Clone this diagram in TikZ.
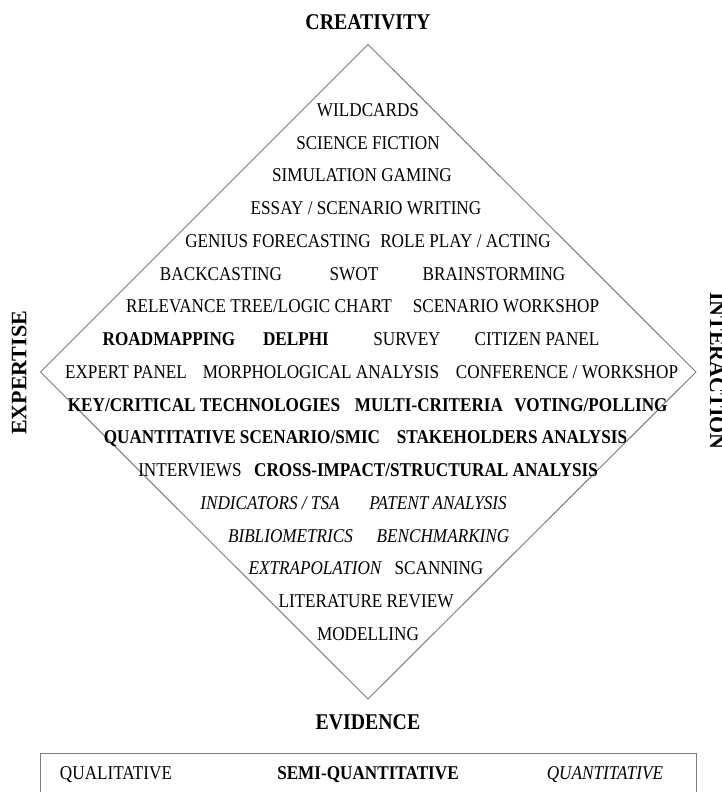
\documentclass[tikz,border=0pt]{standalone}
\usepackage{fontspec}
\setmainfont{Liberation Serif}[FakeStretch=0.88]
\newfontfamily\sidefont{Liberation Serif}

\definecolor{rim}{RGB}{125,125,125}

\tikzset{
  meth/.style={font=\fontsize{19.5}{22}\selectfont, text height=12.9pt, text depth=0pt, inner sep=0pt},
  methb/.style={meth, font=\fontsize{19.5}{22}\selectfont\bfseries},
  methi/.style={meth, font=\fontsize{19.5}{22}\selectfont\itshape},
  corner/.style={font=\fontsize{22.5}{26}\selectfont\bfseries, text height=14.9pt, text depth=0pt, inner sep=0pt},
  sidecorner/.style={corner, font=\fontsize{22}{26}\selectfont\sidefont\bfseries},
}

\begin{document}
\begin{tikzpicture}[x=1pt,y=1pt]
  \useasboundingbox (-368,-420) rectangle (353,372);

  % diamond
  \coordinate (top) at (0,327.5);
  \coordinate (rgt) at (328,0);
  \coordinate (bot) at (0,-327);
  \coordinate (lft) at (-327.5,0);
  \draw[rim,line width=1pt] (top) -- (rgt) -- (bot) -- (lft) -- cycle;

  % corners
  \node[corner] (creativity) at (0,349.5) {CREATIVITY};
  \node[corner] (evidence) at (0,-350) {EVIDENCE};
  \node[sidecorner,rotate=90] (expertise) at (-349,-1) {EXPERTISE};
  \node[sidecorner,rotate=-90] (interaction) at (349.5,1) {INTERACTION};

  % methods, top to bottom
  \node[meth] (wild) at (0,262) {WILDCARDS};
  \node[meth] (scifi) at (0,229.25) {SCIENCE FICTION};
  \node[meth] (simgame) at (-6,196.5) {SIMULATION GAMING};
  \node[meth] (essay) at (-2,163.75) {ESSAY / SCENARIO WRITING};
  \node[meth] (genius) at (-90,131) {GENIUS FORECASTING};
  \node[meth] (roleplay) at (97.5,131) {ROLE PLAY / ACTING};
  \node[meth] (backcast) at (-147,98.25) {BACKCASTING};
  \node[meth] (swot) at (-14,98.25) {SWOT};
  \node[meth] (brainstorm) at (126,98.25) {BRAINSTORMING};
  \node[meth] (reltree) at (-109,65.5) {RELEVANCE TREE/LOGIC CHART};
  \node[meth] (scenws) at (138,65.5) {SCENARIO WORKSHOP};
  \node[methb] (roadmap) at (-199,32.75) {ROADMAPPING};
  \node[methb] (delphi) at (-72,32.75) {DELPHI};
  \node[meth] (survey) at (39,32.75) {SURVEY};
  \node[meth] (citizen) at (169,32.75) {CITIZEN PANEL};
  \node[meth] (exppanel) at (-242,0) {EXPERT PANEL};
  \node[meth] (morph) at (-47,0) {MORPHOLOGICAL ANALYSIS};
  \node[meth] (confws) at (199,0) {CONFERENCE / WORKSHOP};
  \node[methb] (keytech) at (-164,-32.75) {KEY/CRITICAL TECHNOLOGIES};
  \node[methb] (multicrit) at (61,-32.75) {MULTI-CRITERIA};
  \node[methb] (voting) at (223,-32.75) {VOTING/POLLING};
  \node[methb] (quantscen) at (-126,-65.5) {QUANTITATIVE SCENARIO/SMIC};
  \node[methb] (stakeh) at (144,-65.5) {STAKEHOLDERS ANALYSIS};
  \node[meth] (interviews) at (-178,-98.25) {INTERVIEWS};
  \node[methb] (crossimp) at (58,-98.25) {CROSS-IMPACT/STRUCTURAL ANALYSIS};
  \node[methi] (indic) at (-98,-131) {INDICATORS / TSA};
  \node[methi] (patent) at (70,-131) {PATENT ANALYSIS};
  \node[methi] (biblio) at (-77.5,-163.75) {BIBLIOMETRICS};
  \node[methi] (bench) at (75,-163.75) {BENCHMARKING};
  \node[methi] (extrap) at (-53,-196.5) {EXTRAPOLATION};
  \node[meth] (scanning) at (71,-196.5) {SCANNING};
  \node[meth] (litrev) at (-2,-229.25) {LITERATURE REVIEW};
  \node[meth] (model) at (0,-262) {MODELLING};

  % legend box
  \coordinate (boxnw) at (-327.5,-381);
  \coordinate (boxse) at (328,-440);
  \draw[rim,line width=1pt] (boxnw) rectangle (boxse);
  \node[meth] (qual) at (-252,-401) {QUALITATIVE};
  \node[methb] (semiq) at (0,-401) {SEMI-QUANTITATIVE};
  \node[methi] (quant) at (237,-401) {QUANTITATIVE};
\end{tikzpicture}
\end{document}
